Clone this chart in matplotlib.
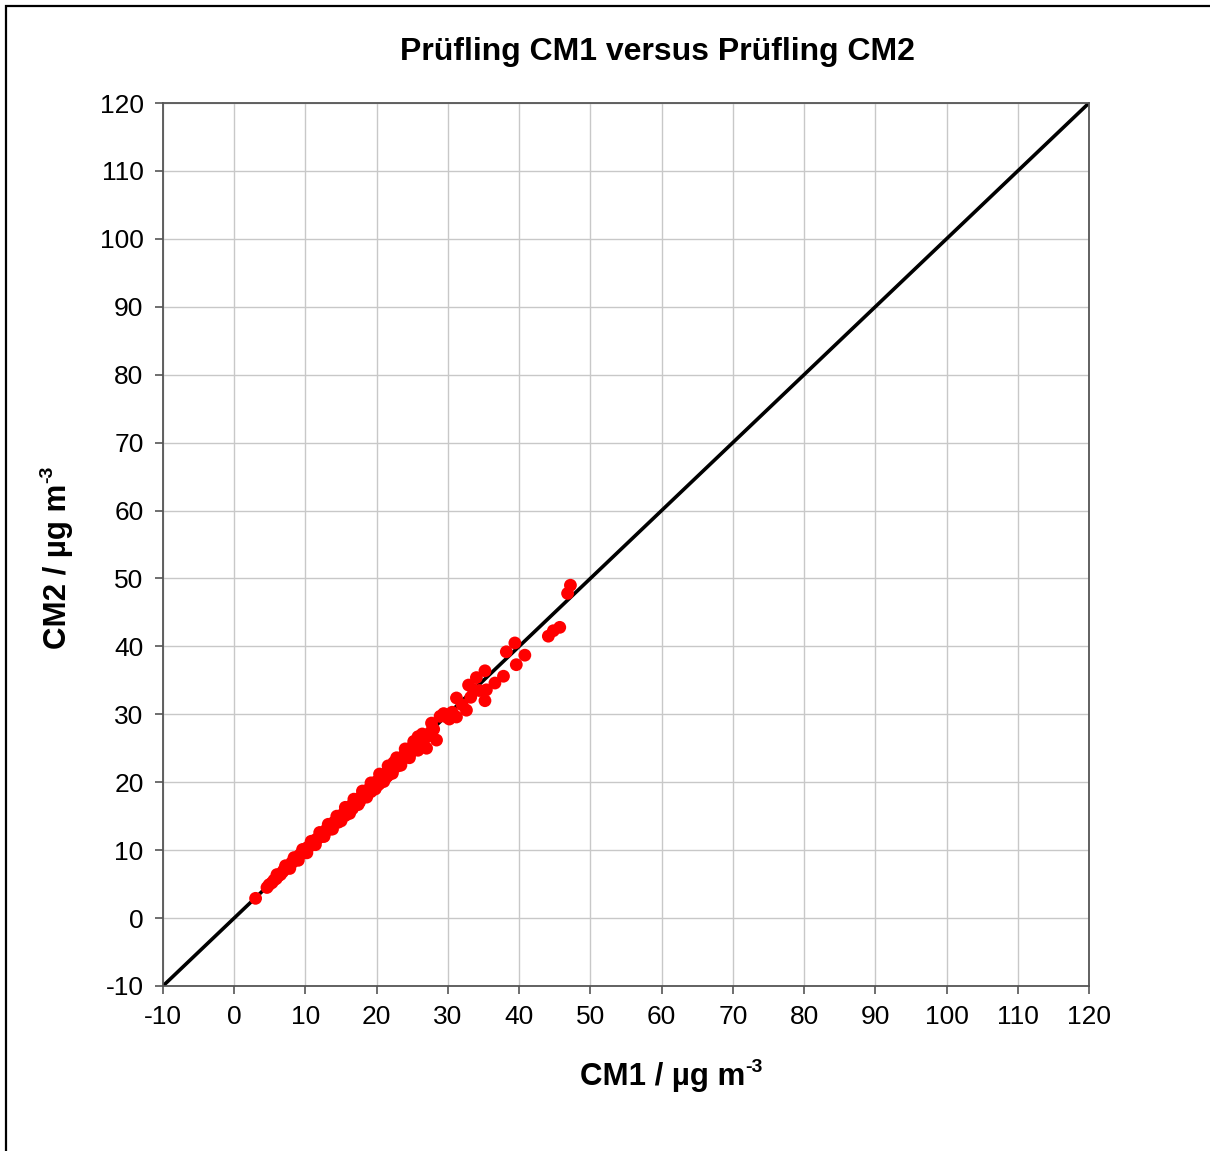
import matplotlib.pyplot as plt
from matplotlib.patches import Rectangle

plt.rcParams['font.family'] = ['Liberation Sans', 'DejaVu Sans']
plt.rcParams['axes.unicode_minus'] = False

# (µg m-3)
cm1 = [3.0, 4.6, 4.9, 5.3, 5.6, 5.9, 6.2, 6.5, 6.8, 7.0, 7.3, 7.6, 7.9, 8.1, 8.4,
       8.7, 9.0, 9.2, 9.5, 9.8, 10.1, 10.3, 10.6, 10.9, 11.2, 11.4, 11.7, 12.0,
       12.2, 12.5, 12.8, 13.0, 13.3, 13.5, 13.8, 14.0, 14.3, 14.5, 14.8, 15.0,
       15.3, 15.5, 15.8, 16.0, 16.3, 16.5, 16.8, 17.0, 17.3, 17.5, 17.8, 18.0,
       18.3, 18.5, 18.8, 19.0, 19.3, 19.5, 19.8, 20.0, 20.3, 20.5, 20.8, 21.0,
       21.3, 21.5, 21.8, 22.0, 22.3, 22.6, 22.9, 23.2, 23.5, 23.8, 24.1, 24.4,
       24.7, 25.0, 25.3, 25.7, 26.0, 26.4, 26.8, 27.2, 27.6, 28.0,
       12.6, 13.6, 14.6, 15.6, 16.6, 17.6, 18.6, 19.6, 20.6, 21.6, 22.4, 23.0,
       19.2, 20.2, 21.2, 22.2, 23.3, 24.2, 25.2, 26.2, 21.4, 20.4,
       6.0, 7.2, 8.4, 9.6, 10.8, 12.0, 13.2, 14.4, 15.6, 16.8, 18.0, 19.2,
       20.4, 21.6, 22.8, 24.0, 25.2, 26.4,
       7.8, 9.0, 10.2, 11.4, 12.6, 13.8, 15.0, 16.2, 17.4, 18.6, 19.8, 21.0,
       22.2, 23.4, 24.6, 25.8,
       25.8, 27.0, 28.4, 27.7, 28.9, 29.4, 31.2, 30.2, 31.2, 32.6, 33.6, 32.9,
       34.0, 35.2, 35.4, 36.6, 37.8, 35.2, 38.2, 39.4, 39.6, 40.8, 44.1, 44.8,
       45.7, 46.8, 47.2, 29.8, 30.6, 32.0, 33.2, 34.4]
cm2 = [2.9, 4.5, 4.9, 5.2, 5.6, 5.8, 6.2, 6.4, 6.8, 7.1, 7.3, 7.6, 7.8, 8.2, 8.4,
       8.6, 9.0, 9.3, 9.5, 9.7, 10.1, 10.4, 10.6, 10.8, 11.2, 11.5, 11.7, 11.9,
       12.3, 12.5, 12.7, 13.1, 13.2, 13.6, 13.7, 14.1, 14.2, 14.6, 14.7, 15.1,
       15.2, 15.6, 15.7, 16.1, 16.2, 16.6, 16.7, 17.1, 17.2, 17.6, 17.7, 18.1,
       18.2, 18.6, 18.7, 19.1, 19.2, 19.6, 19.7, 20.1, 20.2, 20.6, 20.7, 21.1,
       21.2, 21.6, 21.7, 22.1, 22.1, 22.7, 22.6, 23.3, 23.1, 23.9, 23.7, 24.5,
       24.2, 25.1, 24.8, 25.6, 25.5, 26.1, 26.5, 26.8, 27.4, 27.8,
       12.1, 13.1, 14.1, 15.1, 16.1, 17.1, 18.1, 19.1, 20.1, 21.0, 22.9, 22.4,
       18.6, 19.6, 20.6, 21.6, 22.6, 24.8, 25.6, 25.4, 20.8, 19.8,
       6.4, 7.7, 8.9, 10.1, 11.3, 12.6, 13.8, 15.0, 16.3, 17.5, 18.7, 19.9,
       21.2, 22.4, 23.6, 24.9, 26.0, 27.1,
       7.3, 8.5, 9.6, 10.8, 12.0, 13.1, 14.3, 15.4, 16.7, 17.8, 19.0, 20.1,
       21.3, 22.5, 23.6, 24.7,
       26.7, 25.0, 26.2, 28.7, 29.7, 30.1, 29.6, 29.3, 32.4, 30.6, 33.6, 34.3,
       35.4, 36.4, 33.6, 34.6, 35.6, 32.0, 39.2, 40.5, 37.3, 38.7, 41.5, 42.3,
       42.8, 47.8, 49.0, 29.6, 30.3, 31.4, 32.5, 33.5]

ticks = list(range(-10, 121, 10))

fig = plt.figure(figsize=(12.1, 11.51), dpi=100)
ax = fig.add_axes([0.1347, 0.1434, 0.7653, 0.7671])

ax.plot([-10, 120], [-10, 120], color='black', linewidth=2.6, zorder=2)
ax.scatter(cm1, cm2, s=85, color='#ff0000', edgecolors='none', zorder=3)

ax.set_xlim(-10, 120)
ax.set_ylim(-10, 120)
ax.set_xticks(ticks)
ax.set_yticks(ticks)
ax.grid(True, color='#c8c8c8', linewidth=1.0, zorder=0)
ax.set_axisbelow(True)
for sp in ax.spines.values():
    sp.set_color('#555555')
    sp.set_linewidth(1.3)
ax.tick_params(direction='out', length=6, width=1.2, color='#555555',
               labelsize=19, pad=8)

fig.text(657 / 1210, 1 - 52 / 1151, 'Prüfling CM1 versus Prüfling CM2',
         ha='center', va='center', fontsize=23, fontweight='bold')

xl = fig.text(663 / 1210, 1 - 1077 / 1151, 'CM1 / µg m',
              ha='center', va='center', fontsize=22.5, fontweight='bold')
ax.annotate('-3', xy=(1, 0.55), xycoords=xl, ha='left', va='bottom',
            fontsize=14, fontweight='bold')

yl = fig.text(58 / 1210, 1 - 566 / 1151, 'CM2 / µg m',
              ha='center', va='center', fontsize=22.5, fontweight='bold',
              rotation=90)
ax.annotate('-3', xy=(0.45, 1), xycoords=yl, ha='right', va='bottom',
            fontsize=14, fontweight='bold', rotation=90)

fig.patches.append(Rectangle((6 / 1210, -0.5), 2, 0.5 + 1 - 6 / 1151,
                             transform=fig.transFigure, fill=False,
                             edgecolor='black', linewidth=1.6))

fig.savefig('out.png', dpi=100)
